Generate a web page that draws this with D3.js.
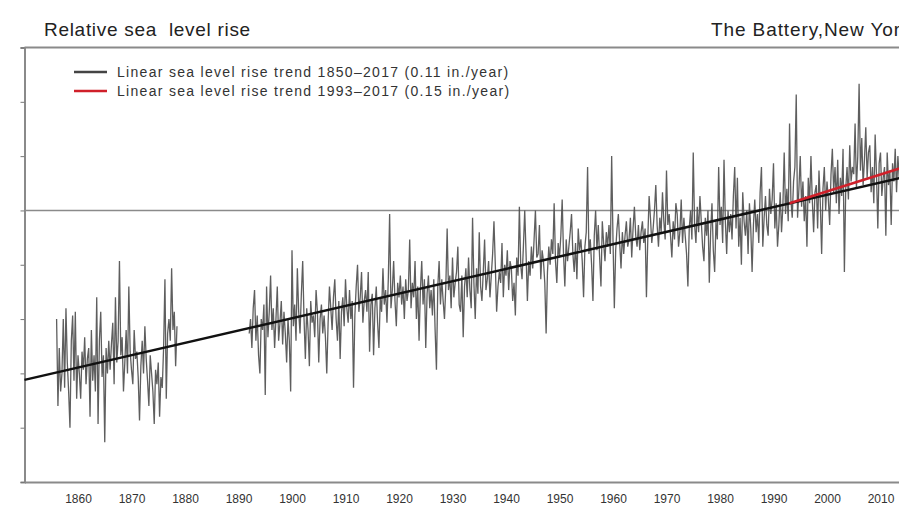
<!DOCTYPE html>
<html>
<head>
<meta charset="utf-8">
<script src="https://cdn.jsdelivr.net/npm/d3@7"></script>
<style>
  body { margin: 0; background: #fff; }
  text { font-family: "Liberation Sans", Arial, sans-serif; }
</style>
</head>
<body>
<div id="chart-area"></div>
<script>
// sea level in cm, one reading per quarter year
var seg1Start = 1856;
var seg1Values = [
  -30, -54, -38, -50,  -45, -30, -49, -27,  -42, -50, -60, -36,  -29, -47, -28, -52,
  -40, -45, -52, -39,  -44, -35, -48, -41,  -38, -57, -33, -47,  -40, -50, -24, -59,
  -36, -28, -46, -40,  -64, -38, -45, -36,  -44, -37, -31, -48,  -24, -42, -36, -14,
  -40, -35, -50, -42,  -33, -45, -21, -39,  -44, -48, -33, -41,  -39, -46, -58, -43,
  -36, -45, -32, -41,  -47, -54, -40, -45,  -50, -59, -44, -48,  -42, -57, -46, -49,
  -38, -19, -52, -34,  -30, -36, -16, -33,  -28, -43, -32
];

var seg2Start = 1892;
var seg2Values = [
  // 1892 - 1930
  -34, -30, -38, -27,  -22, -36, -29, -40,  -45, -30, -33, -26,  -51, -21, -35, -28,
  -18, -33, -27, -38,  -30, -21, -36, -31,  -25, -37, -28, -34,  -42, -30, -36, -50,
  -11, -32, -26, -36,  -16, -28, -34, -23,  -14, -30, -41, -27,  -33, -43, -25, -31,
  -29, -35, -22, -28,  -42, -30, -26, -34,  -29, -35, -45, -31,  -21, -27, -33, -24,
  -19, -30, -36, -25,  -41, -28, -24, -32,  -19, -27, -31, -22,  -30, -25, -49, -29,
  -21, -15, -28, -24,  -17, -31, -25, -22,  -28, -17, -39, -26,  -23, -40, -27, -21,
  -31, -38, -24, -28,  -16, -26, -22, -31,  -19, -1, -27, -22,   -14, -25, -32, -20,
  -24, -18, -26, -21,  -30, -19, -25, -22,  -8, -27, -20, -24,   -14, -30, -21, -36,
  -22, -14, -26, -19,  -38, -23, -18, -27,  -22, -29, -19, -33,  -44, -21, -14, -26,
  -19, -25, -30, -21,  -5, -22, -18, -27,   -13, -24, -20, -17,
  // 1931 - 1970
  -10, -26, -28, -18,  -35, -21, -16, -24,  -13, -22, -27, -2,   -20, -30, -16, -23,
  -6, -21, -25, -17,   -8, -22, -19, -14,   -24, -18, -12, -3,   -15, -28, -21, -17,
  -20, -9, -24, -15,   -18, -11, -22, -14,  -16, -25, -20, -29,  -13, -18, 1, -15,
  -19, -10, 0, -12,    -25, -14, -18, -10,  -16, -8, 0, -13,     -12, -4, -19, -11,
  -14, -20, -34, -17,  -10, -15, -8, -12,   2, -14, -20, -9,     -13, -7, 3, -12,
  -21, -8, -14, -10,   -6, -1, -12, -17,    -9, -19, -5, -11,    -8, -14, -24, -10,
  -6, 12, -12, -8,     -15, -25, -7, 0,     -11, -4, -13, -21,   -3, -9, -14, -6,
  -10, -4, -12, 15,    -8, -27, -11, -5,    -1, -9, -16, -6,     -12, -7, -3, -10,
  -8, -2, -13, -5,     1, -7, -10, -4,      -11, -6, -3, -9,     -5, -24, -8, 4,
  -2, -9, -5, 0,       7, -4, -10, -2,      -6, 5, -3, -8,       11, -4, -1, -7,
  // 1971 - 2017
  -13, -3, -8, 2,      -1, -10, -6, 3,      -9, -2, -7, -12,     -21, -5, 0, -8,
  16, -4, -9, 1,       -6, 4, -3, -10,      -14, -2, -7, 0,      -20, -6, 2, -11,
  -17, -3, -8, 12,     -4, 1, -9, 14,       -3, -12, 0, -6,      -1, -8, 4, 12,
  -5, 9, -10, -2,      -15, 5, -3, -7,      0, -12, 2, -5,       -17, -4, 3, -6,
  -1, -9, 5, 12,       -10, -2, 4, -4,      -7, 6, -1, 3,        13, -5, 2, -10,
  -4, 5, -6, 1,        16, -1, 6, -3,       24, 3, -2, 8,        12, 32, -2, 6,
  15, 1, 8, -3,        4, -10, 9, 2,        15, 3, -6, 5,        7, -5, 11, 2,
  -12, 6, 12, 0,       8, 3, -4, 10,        17, 5, 12, 2,        14, -1, 9, 4,
  17, -17, 6, 12,      3, 18, 8, 12,        10, 24, 6, 15,       35, 11, 20, 7,
  14, 23, 9, 16,       18, 5, 12, 2,        21, 10, -5, 13,      16, 4, 9, 12,
  -7, 16, 7, 11,       -4, 13, 8, 17,       5, 15, 9, 12,        10, 6, 14, 8,
  12, 7, 15, 9,        11, 14, 8, 13,       10, 16, 9, 12
];

var longTrendYears = [1850, 2017];
var longTrendValues = [-46.8, 10.1];
var recentTrendYears = [1993, 2017];
var recentTrendValues = [2.0, 13.2];

var xTickYears = [1860, 1870, 1880, 1890, 1900, 1910, 1920, 1930, 1940, 1950, 1960, 1970, 1980, 1990, 2000, 2010];
var yTickValues = [-75, -60, -45, -30, -15, 0, 15, 30, 45];

var legendLabels = [
  'Linear sea level rise trend 1850\u20132017 (0.11 in./year)',
  'Linear sea level rise trend 1993\u20132017 (0.15 in./year)'
];
var legendColors = ['#444', '#d0202a'];

var W = 899, H = 509;
var plot = { left: 24.5, top: 47.5, bottom: 482 };

var svg = d3.select('#chart-area')
    .append('svg')
    .attr('width', W)
    .attr('height', H);

var x = d3.scaleLinear()
    .domain([1850, 2020])
    .range([plot.left, plot.left + 170 * 5.35]);

var y = d3.scaleLinear()
    .domain([-75, 45])
    .range([plot.bottom, plot.top]);

// titles
svg.append('text')
    .attr('x', 44).attr('y', 36)
    .attr('font-size', '19px')
    .attr('letter-spacing', '0.7px')
    .attr('fill', '#222')
    .style('white-space', 'pre')
    .text('Relative sea  level rise');
svg.append('text')
    .attr('x', 711).attr('y', 36)
    .attr('font-size', '19px')
    .attr('letter-spacing', '0.9px')
    .attr('fill', '#222')
    .text('The Battery,New York');

// frame
svg.append('line')
    .attr('x1', plot.left).attr('x2', W)
    .attr('y1', plot.top).attr('y2', plot.top)
    .attr('stroke', '#8a8a8a').attr('stroke-width', 2);

var yAxis = svg.append('g')
    .attr('transform', 'translate(' + plot.left + ',0)')
    .call(d3.axisLeft(y).tickValues(yTickValues).tickSize(4).tickFormat(''));
yAxis.select('.domain').attr('stroke', '#8a8a8a').attr('stroke-width', 2);
yAxis.selectAll('.tick line').attr('stroke', '#777');

var xAxis = svg.append('g')
    .attr('transform', 'translate(0,' + plot.bottom + ')')
    .call(d3.axisBottom(x).tickValues(xTickYears).tickSize(0).tickPadding(12).tickFormat(d3.format('d')));
xAxis.select('.domain').attr('stroke', '#8a8a8a').attr('stroke-width', 2);
xAxis.selectAll('text')
    .attr('font-size', '12px')
    .attr('fill', '#333')
    .style('font-family', '"Liberation Sans", Arial, sans-serif');

// zero line
svg.append('line')
    .attr('x1', plot.left).attr('x2', W)
    .attr('y1', y(0)).attr('y2', y(0))
    .attr('stroke', '#8a8a8a').attr('stroke-width', 1.6);

// observed series
function toPoints(start, vals) {
  return vals.map(function (v, i) { return { year: start + i * 0.25, value: v }; });
}
var line = d3.line()
    .x(function (d) { return x(d.year); })
    .y(function (d) { return y(d.value); });

[toPoints(seg1Start, seg1Values), toPoints(seg2Start, seg2Values)].forEach(function (seg) {
  svg.append('path')
      .datum(seg)
      .attr('fill', 'none')
      .attr('stroke', '#4d4d4d')
      .attr('stroke-opacity', 0.9)
      .attr('stroke-width', 1.3)
      .attr('d', line);
});

// trends
function trendPoints(years, vals) {
  return years.map(function (yr, i) { return { year: yr, value: vals[i] }; });
}
svg.append('path')
    .datum(trendPoints(longTrendYears, longTrendValues))
    .attr('fill', 'none')
    .attr('stroke', '#111')
    .attr('stroke-width', 2.5)
    .attr('d', line);
svg.append('path')
    .datum(trendPoints(recentTrendYears, recentTrendValues))
    .attr('fill', 'none')
    .attr('stroke', legendColors[1])
    .attr('stroke-width', 2.5)
    .attr('d', line);

// legend
var legend = svg.append('g');
legendLabels.forEach(function (lab, i) {
  var ly = 72 + i * 19;
  legend.append('line')
      .attr('x1', 74).attr('x2', 107)
      .attr('y1', ly).attr('y2', ly)
      .attr('stroke', legendColors[i])
      .attr('stroke-width', 2.5);
  legend.append('text')
      .attr('x', 117).attr('y', ly + 5)
      .attr('font-size', '14px')
      .attr('letter-spacing', '1.3px')
      .attr('fill', '#333')
      .text(lab);
});
</script>
</body>
</html>
